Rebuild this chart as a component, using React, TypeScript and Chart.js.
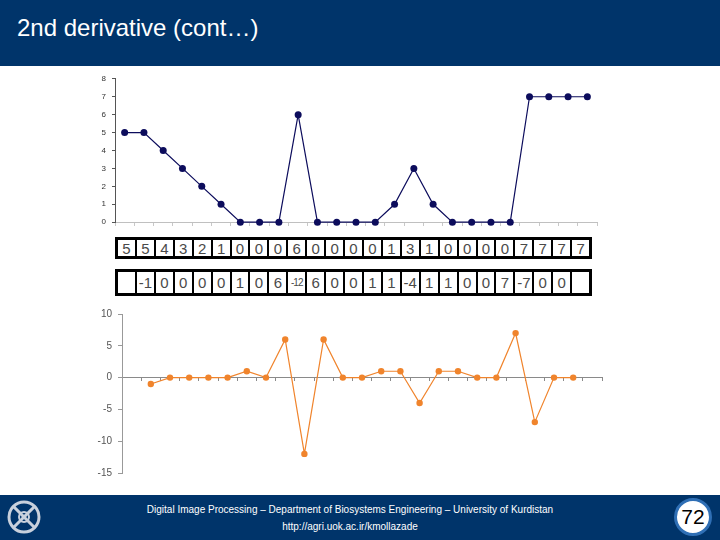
import React, { useEffect, useRef } from "react";
import { Chart, registerables } from "chart.js";

Chart.register(...registerables);

const samples = ["1","2","3","4","5","6","7","8","9","10","11","12","13","14","15","16","17","18","19","20","21","22","23","24","25"];
const profileValues = [5, 5, 4, 3, 2, 1, 0, 0, 0, 6, 0, 0, 0, 0, 1, 3, 1, 0, 0, 0, 0, 7, 7, 7, 7];
const secondDerivative: (number | null)[] = [null, -1, 0, 0, 0, 0, 1, 0, 6, -12, 6, 0, 0, 1, 1, -4, 1, 1, 0, 0, 7, -7, 0, 0, null];
const topTicks = [0, 1, 2, 3, 4, 5, 6, 7, 8];
const bottomTicks = [-15, -10, -5, 0, 5, 10];

const FONT = "'Liberation Sans', Arial, Helvetica, sans-serif";
const NAVY = "#0c0c5c";
const ORANGE = "#f0842c";

function TopChart() {
  const ref = useRef<HTMLCanvasElement>(null);
  useEffect(() => {
    const chart = new Chart(ref.current!, {
      type: "line",
      data: {
        labels: samples,
        datasets: [
          {
            data: profileValues,
            borderColor: NAVY,
            backgroundColor: NAVY,
            borderWidth: 1.2,
            pointRadius: 3.5,
            pointBorderWidth: 0,
            pointBackgroundColor: NAVY,
            tension: 0,
            clip: false as any,
          },
        ],
      },
      options: {
        animation: false,
        responsive: false,
        maintainAspectRatio: false,
        layout: { padding: { left: 0, right: 13, top: 10, bottom: 7 } },
        plugins: { legend: { display: false }, tooltip: { enabled: false } },
        scales: {
          x: {
            type: "category",
            offset: true,
            position: { y: 0 } as any,
            ticks: { display: false },
            grid: { drawOnChartArea: false, drawTicks: true, tickLength: 3, color: "#c8c8c8", offset: true },
            border: { display: true, color: "#c0c0c0", dash: [1, 4] },
          },
          y: {
            min: 0,
            max: 8,
            afterBuildTicks: (scale: any) => {
              scale.ticks = topTicks.map((v) => ({ value: v }));
            },
            afterFit: (scale: any) => {
              scale.width = 25;
            },
            ticks: { color: "#333", font: { family: FONT, size: 8 }, padding: 6 },
            grid: { drawOnChartArea: false, drawTicks: true, tickLength: 3, color: "#555" },
            border: { display: true, color: "#555" },
          },
        },
      },
    });
    return () => chart.destroy();
  }, []);
  return <canvas ref={ref} width={520} height={165} style={{ position: "absolute", left: 90, top: 68, width: 520, height: 165 }} />;
}

function BottomChart() {
  const ref = useRef<HTMLCanvasElement>(null);
  useEffect(() => {
    const chart = new Chart(ref.current!, {
      type: "line",
      data: {
        labels: samples,
        datasets: [
          {
            data: secondDerivative,
            borderColor: ORANGE,
            backgroundColor: ORANGE,
            borderWidth: 1.2,
            pointRadius: 3.2,
            pointBorderWidth: 0,
            pointBackgroundColor: ORANGE,
            tension: 0,
            clip: false as any,
          },
        ],
      },
      options: {
        animation: false,
        responsive: false,
        maintainAspectRatio: false,
        layout: { padding: { left: 0, right: 18, top: 14, bottom: 8 } },
        plugins: { legend: { display: false }, tooltip: { enabled: false } },
        scales: {
          x: {
            type: "category",
            offset: true,
            position: { y: 0 } as any,
            ticks: { display: false },
            grid: { drawOnChartArea: false, drawTicks: true, tickLength: 3, color: "#8a8a8a", offset: true },
            border: { display: true, color: "#8a8a8a" },
          },
          y: {
            min: -15,
            max: 10,
            afterBuildTicks: (scale: any) => {
              scale.ticks = bottomTicks.map((v) => ({ value: v }));
            },
            afterFit: (scale: any) => {
              scale.width = 42;
            },
            ticks: { color: "#555", font: { family: FONT, size: 10 }, padding: 6 },
            grid: { drawOnChartArea: false, drawTicks: true, tickLength: 4, color: "#999" },
            border: { display: true, color: "#999" },
          },
        },
      },
    });
    return () => chart.destroy();
  }, []);
  return <canvas ref={ref} width={540} height={185} style={{ position: "absolute", left: 80, top: 300, width: 540, height: 185 }} />;
}

function ValueRow({ values, top, height }: { values: (number | null)[]; top: number; height: number }) {
  return (
    <div
      style={{
        position: "absolute",
        left: 115,
        top,
        width: 477,
        height,
        boxSizing: "border-box",
        border: "3px solid #000",
        display: "flex",
        background: "#fff",
      }}
    >
      {values.map((v, i) => {
        const txt = v === null ? "" : String(v);
        const small = txt.length > 2;
        return (
          <div
            key={i}
            style={{
              flex: 1,
              borderLeft: i === 0 ? "none" : "2px solid #000",
              display: "flex",
              alignItems: "center",
              justifyContent: "center",
              fontFamily: FONT,
              fontSize: small ? 10 : 15,
              color: "#4a4a4a",
              letterSpacing: small ? -1 : 0,
              overflow: "hidden",
              whiteSpace: "nowrap",
            }}
          >
            {txt}
          </div>
        );
      })}
    </div>
  );
}

export default function App() {
  return (
    <div style={{ position: "fixed", left: 0, top: 0, width: 720, height: 540, background: "#fff", overflow: "hidden", fontFamily: FONT }}>
      <div style={{ position: "absolute", left: 0, top: 0, width: 720, height: 66, background: "#00346a" }} />
      <div style={{ position: "absolute", left: 17, top: 13, color: "#fff", fontSize: 24, lineHeight: "30px", fontFamily: FONT }}>
        2nd derivative (cont…)
      </div>
      <TopChart />
      <ValueRow values={profileValues} top={237} height={22} />
      <ValueRow values={secondDerivative} top={269} height={27} />
      <BottomChart />
      <div style={{ position: "absolute", left: 0, top: 495, width: 720, height: 45, background: "#00346a" }} />
      <svg style={{ position: "absolute", left: 4, top: 497 }} width={40} height={40} viewBox="0 0 40 40">
        <circle cx="20" cy="20" r="15" fill="none" stroke="#c8d0dc" strokeWidth="3" />
        <line x1="9" y1="9" x2="31" y2="31" stroke="#c8d0dc" strokeWidth="3" />
        <line x1="31" y1="9" x2="9" y2="31" stroke="#c8d0dc" strokeWidth="3" />
        <circle cx="20" cy="20" r="5" fill="none" stroke="#c8d0dc" strokeWidth="2" />
      </svg>
      <div style={{ position: "absolute", left: 0, width: 700, top: 503, textAlign: "center", color: "#fff", fontSize: 10, lineHeight: "14px", fontFamily: FONT }}>
        Digital Image Processing – Department of Biosystems Engineering – University of Kurdistan
      </div>
      <div style={{ position: "absolute", left: 0, width: 700, top: 520, textAlign: "center", color: "#fff", fontSize: 10, lineHeight: "14px", fontFamily: FONT }}>
        http://agri.uok.ac.ir/kmollazade
      </div>
      <div
        style={{
          position: "absolute",
          left: 674,
          top: 498,
          width: 38,
          height: 38,
          boxSizing: "border-box",
          borderRadius: "50%",
          background: "#fff",
          border: "3px solid #2f6fb5",
          display: "flex",
          alignItems: "center",
          justifyContent: "center",
          fontSize: 21,
          color: "#000",
          fontFamily: FONT,
        }}
      >
        72
      </div>
    </div>
  );
}
